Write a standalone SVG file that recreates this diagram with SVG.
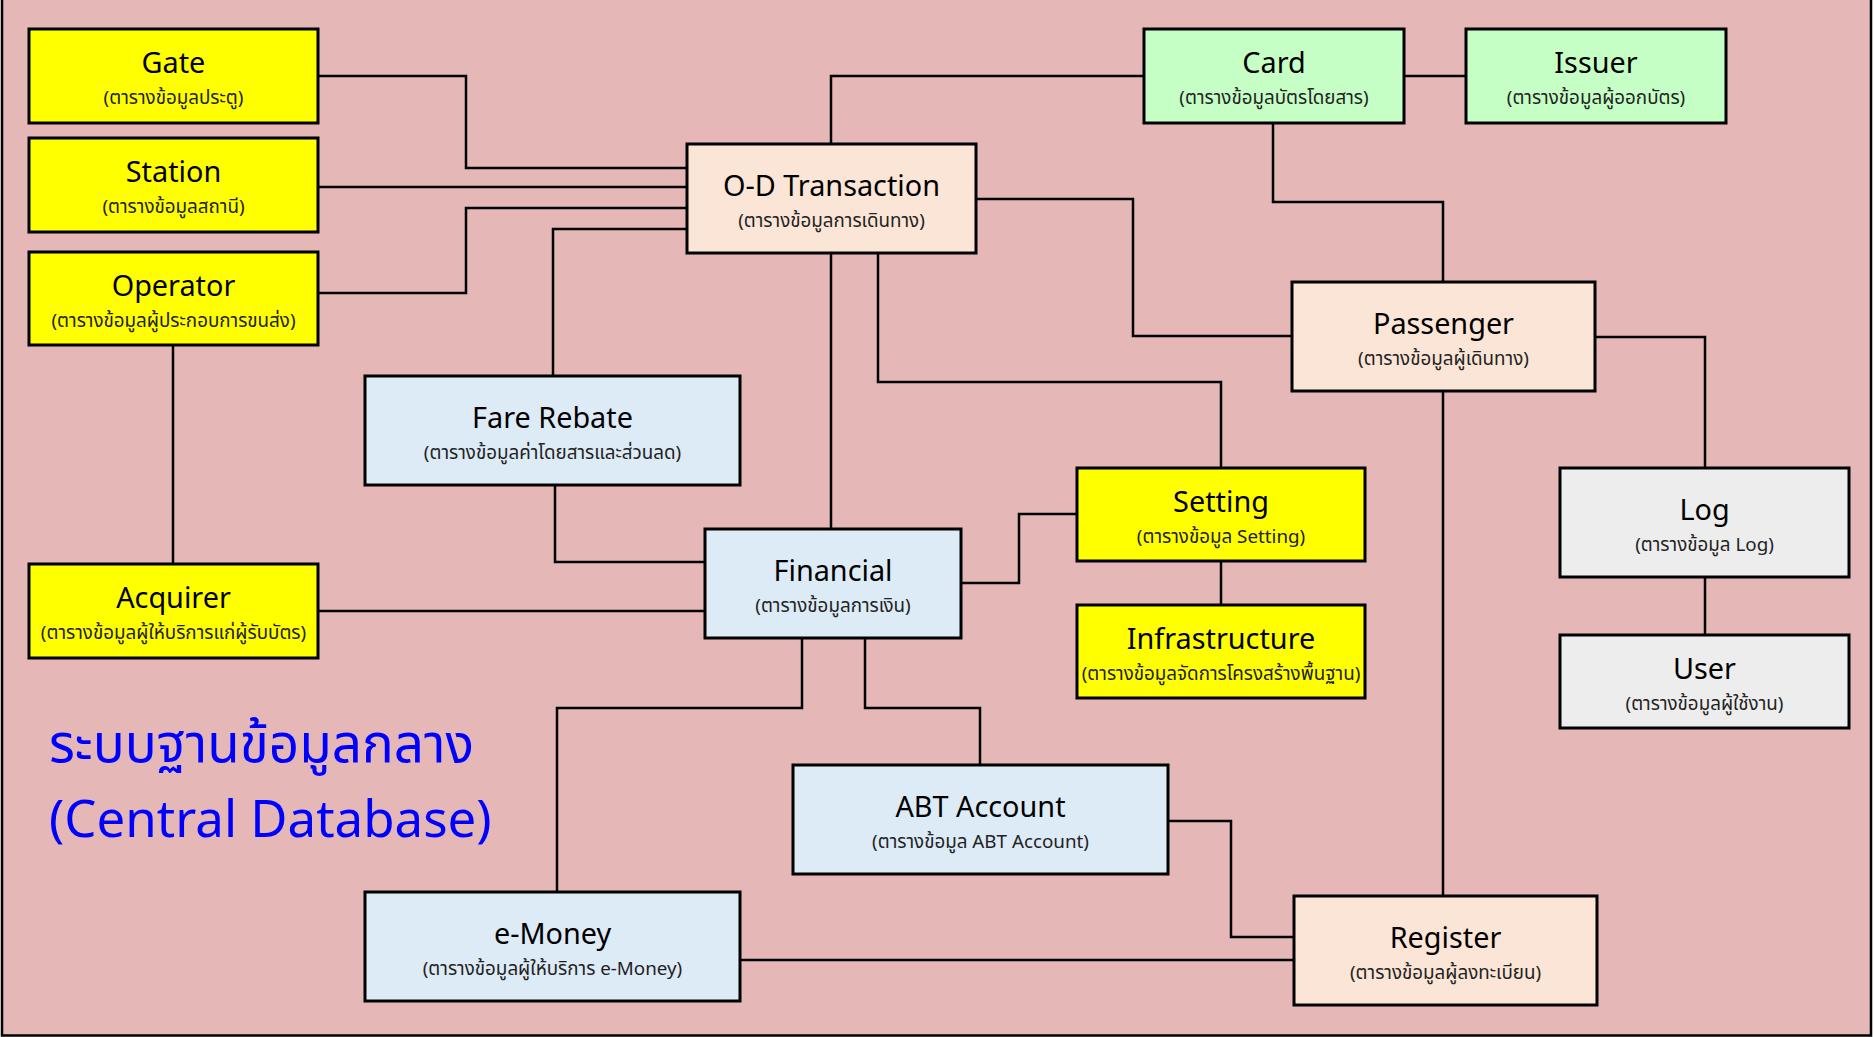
<svg xmlns="http://www.w3.org/2000/svg" width="1874" height="1037" viewBox="0 0 1874 1037">
<style>
.bx{stroke:#000;stroke-width:3}
.y{fill:#FFFF00}.g{fill:#C6FFC6}.p{fill:#FBE5D6}.b{fill:#DDEBF7}.w{fill:#EDEDED}
.t{font-family:"Noto Sans","Open Sans",sans-serif;font-size:28.8px;fill:#000;text-anchor:middle}
.s{font-family:"Noto Sans","Noto Sans Thai","Open Sans",sans-serif;font-size:18.8px;fill:#222;text-anchor:middle}
.c{fill:none;stroke:#000;stroke-width:2.5}
.h{font-family:"Noto Sans","Noto Sans Thai","Open Sans",sans-serif;fill:#0000FF}
</style>
<rect x="2" y="-4" width="1869" height="1039.5" fill="#E5B8B7" stroke="#000" stroke-width="2.5"/>
<g id="connectors">
<polyline class="c" points="318,76 466,76 466,168 687,168"/>
<polyline class="c" points="318,187 687,187"/>
<polyline class="c" points="318,293 466,293 466,208 687,208"/>
<polyline class="c" points="687,229 553,229 553,376"/>
<polyline class="c" points="173,345 173,564"/>
<polyline class="c" points="831,144 831,76 1144,76"/>
<polyline class="c" points="1404,76 1466,76"/>
<polyline class="c" points="1273,123 1273,202 1443,202 1443,282"/>
<polyline class="c" points="976,199 1133,199 1133,336 1292,336"/>
<polyline class="c" points="1595,337 1705,337 1705,468"/>
<polyline class="c" points="1705,577 1705,635"/>
<polyline class="c" points="831,253 831,529"/>
<polyline class="c" points="878,253 878,382 1221,382 1221,468"/>
<polyline class="c" points="555,485 555,562 705,562"/>
<polyline class="c" points="318,611 705,611"/>
<polyline class="c" points="961,583 1019,583 1019,514 1077,514"/>
<polyline class="c" points="1221,561 1221,605"/>
<polyline class="c" points="802,638 802,708 557,708 557,892"/>
<polyline class="c" points="865,638 865,708 980,708 980,765"/>
<polyline class="c" points="1168,821 1231,821 1231,937 1294,937"/>
<polyline class="c" points="740,960 1294,960"/>
<polyline class="c" points="1443,391 1443,896"/>
</g>
<g id="gate"><rect class="bx y" x="29" y="29" width="289" height="94"/><text class="t" x="173.5" y="73">Gate</text><text class="s" x="173.5" y="104">(ตารางข้อมูลประตู)</text></g>
<g id="station"><rect class="bx y" x="29" y="138" width="289" height="94"/><text class="t" x="173.5" y="182">Station</text><text class="s" x="173.5" y="213">(ตารางข้อมูลสถานี)</text></g>
<g id="operator"><rect class="bx y" x="29" y="252" width="289" height="93"/><text class="t" x="173.5" y="295.5">Operator</text><text class="s" x="173.5" y="326.5">(ตารางข้อมูลผู้ประกอบการขนส่ง)</text></g>
<g id="acquirer"><rect class="bx y" x="29" y="564" width="289" height="94"/><text class="t" x="173.5" y="608">Acquirer</text><text class="s" x="173.5" y="639">(ตารางข้อมูลผู้ให้บริการแก่ผู้รับบัตร)</text></g>
<g id="od"><rect class="bx p" x="687" y="144" width="289" height="109"/><text class="t" x="831.5" y="195.5">O-D Transaction</text><text class="s" x="831.5" y="226.5">(ตารางข้อมูลการเดินทาง)</text></g>
<g id="card"><rect class="bx g" x="1144" y="29" width="260" height="94"/><text class="t" x="1274" y="73">Card</text><text class="s" x="1274" y="104">(ตารางข้อมูลบัตรโดยสาร)</text></g>
<g id="issuer"><rect class="bx g" x="1466" y="29" width="260" height="94"/><text class="t" x="1596" y="73">Issuer</text><text class="s" x="1596" y="104">(ตารางข้อมูลผู้ออกบัตร)</text></g>
<g id="passenger"><rect class="bx p" x="1292" y="282" width="303" height="109"/><text class="t" x="1443.5" y="333.5">Passenger</text><text class="s" x="1443.5" y="364.5">(ตารางข้อมูลผู้เดินทาง)</text></g>
<g id="farerebate"><rect class="bx b" x="365" y="376" width="375" height="109"/><text class="t" x="552.5" y="427.5">Fare Rebate</text><text class="s" x="552.5" y="458.5">(ตารางข้อมูลค่าโดยสารและส่วนลด)</text></g>
<g id="financial"><rect class="bx b" x="705" y="529" width="256" height="109"/><text class="t" x="833" y="580.5">Financial</text><text class="s" x="833" y="611.5">(ตารางข้อมูลการเงิน)</text></g>
<g id="setting"><rect class="bx y" x="1077" y="468" width="288" height="93"/><text class="t" x="1221" y="511.5">Setting</text><text class="s" x="1221" y="542.5">(ตารางข้อมูล Setting)</text></g>
<g id="infrastructure"><rect class="bx y" x="1077" y="605" width="288" height="93"/><text class="t" x="1221" y="648.5">Infrastructure</text><text class="s" x="1221" y="679.5">(ตารางข้อมูลจัดการโครงสร้างพื้นฐาน)</text></g>
<g id="log"><rect class="bx w" x="1560" y="468" width="289" height="109"/><text class="t" x="1704.5" y="519.5">Log</text><text class="s" x="1704.5" y="550.5">(ตารางข้อมูล Log)</text></g>
<g id="user"><rect class="bx w" x="1560" y="635" width="289" height="93"/><text class="t" x="1704.5" y="678.5">User</text><text class="s" x="1704.5" y="709.5">(ตารางข้อมูลผู้ใช้งาน)</text></g>
<g id="abt"><rect class="bx b" x="793" y="765" width="375" height="109"/><text class="t" x="980.5" y="816.5">ABT Account</text><text class="s" x="980.5" y="847.5">(ตารางข้อมูล ABT Account)</text></g>
<g id="emoney"><rect class="bx b" x="365" y="892" width="375" height="109"/><text class="t" x="552.5" y="943.5">e-Money</text><text class="s" x="552.5" y="974.5">(ตารางข้อมูลผู้ให้บริการ e-Money)</text></g>
<g id="register"><rect class="bx p" x="1294" y="896" width="303" height="109"/><text class="t" x="1445.5" y="947.5">Register</text><text class="s" x="1445.5" y="978.5">(ตารางข้อมูลผู้ลงทะเบียน)</text></g>
<g id="title"><text class="h" x="49" y="762" font-size="53">ระบบฐานข้อมูลกลาง</text><text class="h" x="49" y="837" font-size="51">(Central Database)</text></g>
</svg>
